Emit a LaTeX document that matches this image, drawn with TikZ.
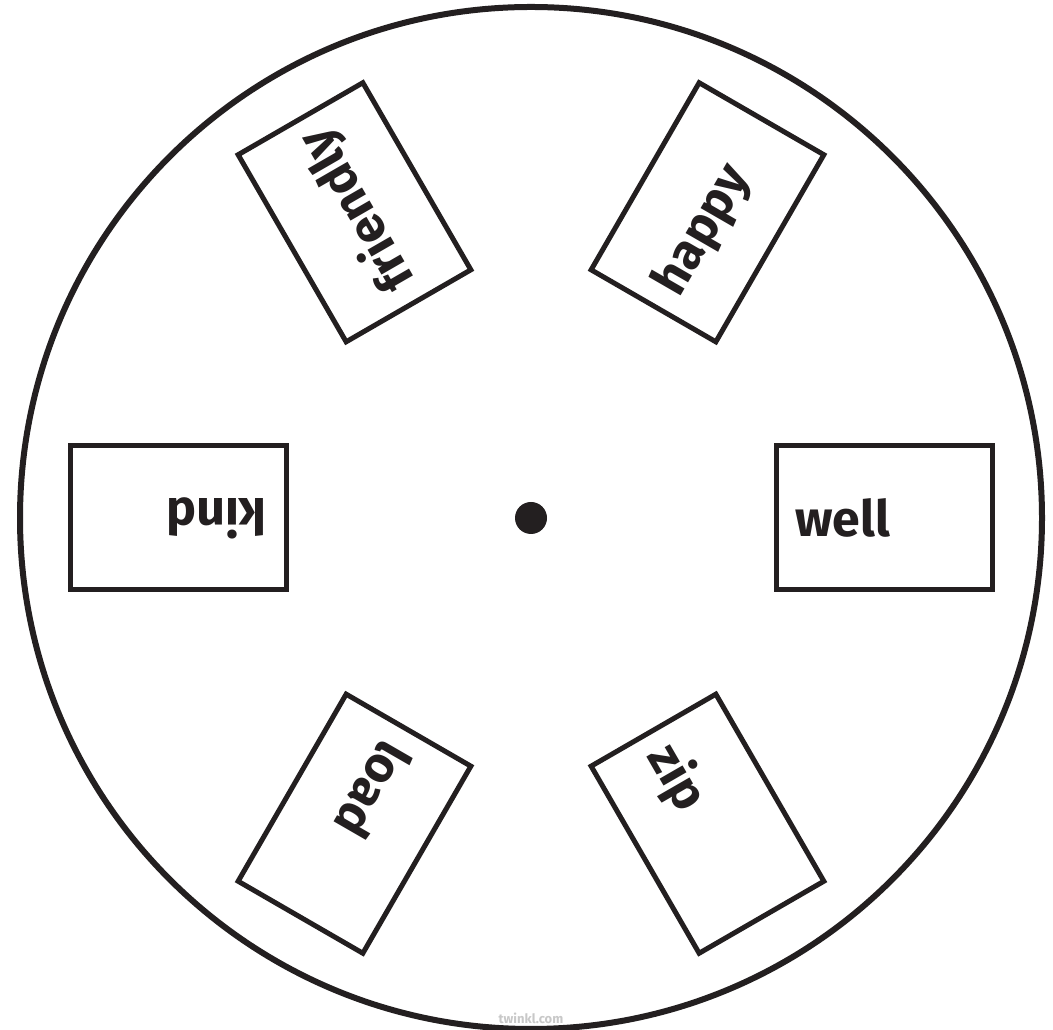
\documentclass[tikz,border=0pt]{standalone}
\usepackage{fontspec}
\setmainfont{Fira Sans}
\definecolor{ink}{HTML}{231F20}
\definecolor{wmark}{HTML}{C8C8C8}
\begin{document}
\begin{tikzpicture}[x=1pt,y=1pt,
  card/.style={draw=ink, line width=5pt, minimum width=216pt, minimum height=144pt, inner sep=0pt},
  word/.style={text=ink, font=\fontsize{50}{50}\selectfont\bfseries, anchor=base west, inner sep=0pt}]
\useasboundingbox (0,0) rectangle (1053,1030);
\fill[white] (0,0) rectangle (1053,1030);
\coordinate (c) at (531,512);
\draw[ink, line width=6pt] (c) circle (511pt);
\fill[ink] (c) circle (16pt);
\foreach \ang/\w/\n in {0/well/a, 60/happy/b, 120/friendly/c, 180/kind/d, 240/load/e, 300/zip/f} {
  \begin{scope}[shift={(c)}, rotate=\ang]
    \node[card, rotate=\ang] (card\n) at (353,0) {};
    \node[word, rotate=\ang] (word\n) at (264,-19) {\w};
  \end{scope}
}
\node[text=wmark, font=\fontsize{13}{13}\selectfont\bfseries] (wm) at (531,12) {twinkl.com};
\end{tikzpicture}
\end{document}
